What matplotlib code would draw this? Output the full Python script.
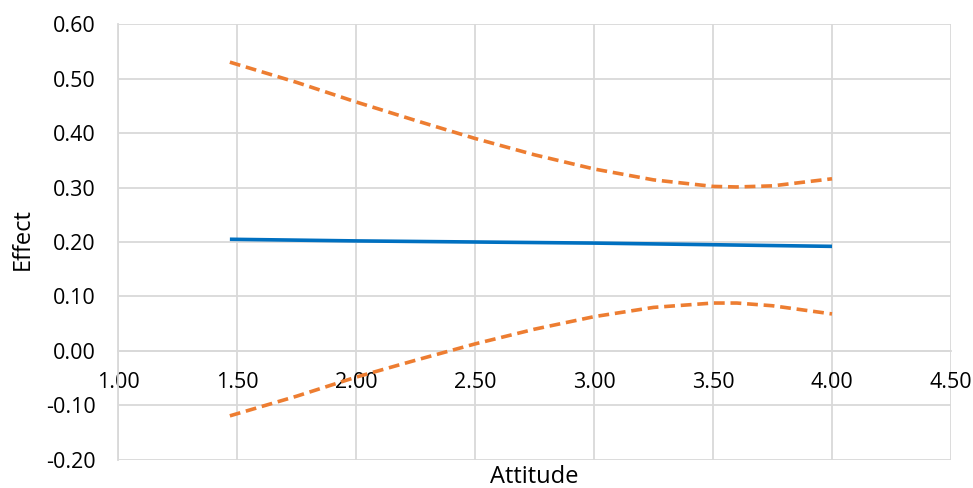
import matplotlib.pyplot as plt
import numpy as np

plt.rcParams["font.family"] = ["Open Sans", "DejaVu Sans"]

# values
x_mid = [1.47, 2.0, 2.5, 3.0, 3.5, 4.0]
effect = [0.205, 0.202, 0.200, 0.198, 0.195, 0.192]

x_band = [1.47, 1.75, 2.0, 2.25, 2.5, 2.75, 3.0, 3.25, 3.5, 3.6, 3.75, 4.0]
upper = [0.530, 0.493, 0.457, 0.423, 0.390, 0.360, 0.334, 0.314, 0.302, 0.301, 0.303, 0.316]
lower = [-0.119, -0.083, -0.048, -0.017, 0.013, 0.040, 0.063, 0.080, 0.088, 0.088, 0.083, 0.068]

x_ticks = [1.0, 1.5, 2.0, 2.5, 3.0, 3.5, 4.0, 4.5]
y_ticks = [-0.2, -0.1, 0.0, 0.1, 0.2, 0.3, 0.4, 0.5, 0.6]

grid_c = "#d9d9d9"

fig = plt.figure(figsize=(9.73, 4.88), dpi=100)
ax = fig.add_axes([0.1213, 0.0574, 0.8561, 0.8934])

ax.plot(x_mid, effect, color="#0070C0", lw=2.6, solid_capstyle="butt", zorder=3)
ax.plot(x_band, upper, color="#ED7D31", lw=2.6, ls=(0, (3.0, 1.6)), zorder=3)
ax.plot(x_band, lower, color="#ED7D31", lw=2.6, ls=(0, (3.0, 1.6)), zorder=3)

ax.set_xlim(1.0, 4.5)
ax.set_ylim(-0.2, 0.6)
ax.set_xticks(x_ticks)
ax.set_yticks(y_ticks)
ax.set_xticklabels([f"{v:.2f}" for v in x_ticks])
ax.set_yticklabels([f"{v:.2f}" for v in y_ticks])
ax.grid(True, color=grid_c, lw=1.3, zorder=0)

for s in ["top", "right"]:
    ax.spines[s].set_visible(False)
ax.spines["bottom"].set_position(("data", 0))
ax.spines["bottom"].set_color(grid_c)
ax.spines["bottom"].set_linewidth(1.3)
ax.spines["left"].set_color(grid_c)
ax.spines["left"].set_linewidth(1.3)

ax.tick_params(axis="x", length=0, pad=15, labelsize=15.5, colors="#000000")
ax.tick_params(axis="y", length=0, pad=16, labelsize=15.5, colors="#000000")

fig.text(23 / 973, 1 - 239 / 488, "Effect", fontsize=17, rotation=90,
         ha="center", va="center")
fig.text(534 / 973, 5 / 488, "Attitude", fontsize=17, ha="center", va="baseline")

fig.savefig("out.png", dpi=100)
